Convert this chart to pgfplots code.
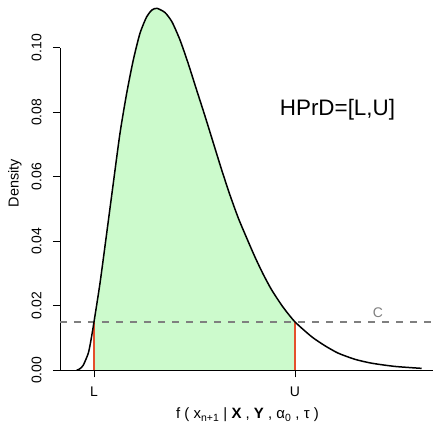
\documentclass[border=0pt]{standalone}
\usepackage{fontspec}
\setmainfont{Liberation Sans}
\usepackage{pgfplots}
\pgfplotsset{compat=1.18}
\definecolor{hpdgreen}{HTML}{CCFACC}
\definecolor{limred}{HTML}{E4502C}
\definecolor{cgray}{HTML}{7F7F7F}

% density (x in arbitrary units)
\pgfplotstableread{
x y
1.67 0
2.00 0.0005
2.33 0.0016
2.83 0.0053
3.10 0.0094
3.40 0.0150
4.00 0.0270
4.67 0.0425
5.33 0.0580
6.00 0.0735
6.67 0.0859
7.33 0.0962
8.00 0.1045
8.67 0.1096
9.20 0.1117
9.70 0.1122
10.50 0.1109
11.20 0.1080
12.00 0.1024
12.80 0.0953
13.60 0.0875
14.50 0.0788
15.30 0.0708
16.17 0.0621
17.00 0.0543
17.83 0.0472
18.67 0.0410
19.50 0.0351
20.30 0.0299
21.17 0.0249
22.30 0.0196
23.50 0.0150
25.17 0.0104
26.50 0.0076
27.83 0.0053
29.50 0.0034
31.17 0.0022
33.50 0.0012
36.17 0.0006
}\dens

\pgfplotstableread{
x y
3.40 0
3.40 0.0150
4.00 0.0270
4.67 0.0425
5.33 0.0580
6.00 0.0735
6.67 0.0859
7.33 0.0962
8.00 0.1045
8.67 0.1096
9.20 0.1117
9.70 0.1122
10.50 0.1109
11.20 0.1080
12.00 0.1024
12.80 0.0953
13.60 0.0875
14.50 0.0788
15.30 0.0708
16.17 0.0621
17.00 0.0543
17.83 0.0472
18.67 0.0410
19.50 0.0351
20.30 0.0299
21.17 0.0249
22.30 0.0196
23.50 0.0150
23.50 0
}\hpd

\begin{document}
\begin{tikzpicture}
\path[use as bounding box] (-60bp,-52.7bp) rectangle (374bp,370.3bp);
\begin{axis}[
  at={(0,0)}, anchor=south west,
  scale only axis,
  width=373bp, height=365.3bp,
  xmin=0, xmax=37.3,
  ymin=0, ymax=0.11324,
  clip=false,
  axis lines*=left,
  axis line style={draw=none},
  tick align=outside,
  major tick length=7bp,
  tick style={black, line width=0.8bp},
  xtick={3.4,23.5},
  xticklabels={L,U},
  ytick={0,0.02,0.04,0.06,0.08,0.1},
  yticklabel style={/pgf/number format/fixed,/pgf/number format/precision=2,/pgf/number format/fixed zerofill,
    rotate=90, anchor=south},
  /pgf/number format/assume math mode=true,
  ticklabel style={font=\fontsize{14}{16}\selectfont},
  yticklabel shift=8bp,
  xticklabel shift=6bp,
  xlabel={f ( x\textsubscript{n+1} | \textbf{X} , \textbf{Y} , α\textsubscript{0} , τ )},
  ylabel={Density},
  label style={font=\fontsize{14.5}{16}\selectfont},
  xlabel style={font=\fontsize{15}{17}\selectfont, at={(axis description cs:0.5027,-0.1224)}, anchor=center},
  ylabel style={at={(axis description cs:-0.1206,0.5127)}, anchor=center, rotate=0},
]
\addplot[fill=hpdgreen, draw=none] table[x=x,y=y] {\hpd} \closedcycle;
\addplot[black, line width=1bp] coordinates {(0,0) (37.3,0)};
\addplot[black, line width=0.8bp] coordinates {(0,0) (0,0.1)};
\addplot[cgray, line width=1.4bp, dash pattern=on 7bp off 7bp] coordinates {(0,0.015) (37.3,0.015)};
\addplot[limred, line width=1.5bp] coordinates {(3.4,0) (3.4,0.015)};
\addplot[limred, line width=1.5bp] coordinates {(23.5,0) (23.5,0.015)};
\addplot[black, line width=1.5bp, smooth, tension=0.4] table[x=x,y=y] {\dens};
\node[cgray, font=\fontsize{14}{16}\selectfont] at (axis cs:31.8,0.01785) {C};
\node[font=\fontsize{22.5}{26}\selectfont] at (axis cs:27.75,0.0807) {HPrD=[L,U]};
\end{axis}
\end{tikzpicture}
\end{document}
